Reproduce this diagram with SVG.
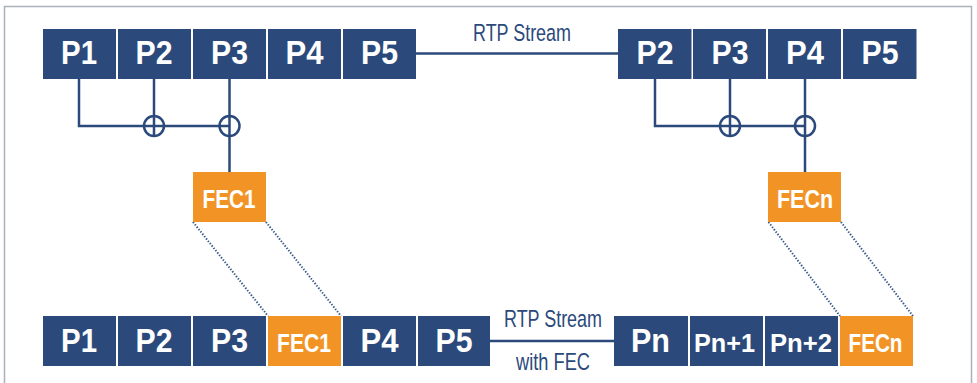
<svg xmlns="http://www.w3.org/2000/svg" width="977" height="383" viewBox="0 0 977 383">
<style>
.pk{fill:#2b4a7b}
.fec{fill:#f29425}
.lb{font-family:"Liberation Sans",Arial,sans-serif;font-weight:bold;fill:#ffffff;text-anchor:middle}
.big{font-size:33.5px}
.mid{font-size:26.5px}
.cap{font-family:"Liberation Sans",Arial,sans-serif;font-size:24.5px;fill:#2b4a7b;text-anchor:middle}
.ln{stroke:#2b4a7b;stroke-width:2.5;fill:none}
.dot{stroke:#3a5a8a;stroke-width:2;stroke-dasharray:1.4 1.6;fill:none}
</style>
<rect x="0" y="0" width="977" height="383" fill="#ffffff"/>
<rect x="4.5" y="6.5" width="967" height="385" fill="none" stroke="#aab1ba" stroke-width="1.5"/>

<g id="connectors">
  <line class="ln" x1="415" y1="53.5" x2="619" y2="53.5"/>
  <polyline class="ln" points="79,79 79,126 229,126"/>
  <line class="ln" x1="154" y1="79" x2="154" y2="136"/>
  <line class="ln" x1="229.5" y1="79" x2="229.5" y2="173"/>
  <circle class="ln" cx="154" cy="126" r="10"/>
  <circle class="ln" cx="229.5" cy="126" r="10"/>
  <polyline class="ln" points="655,79 655,126 805,126"/>
  <line class="ln" x1="730" y1="79" x2="730" y2="136"/>
  <line class="ln" x1="805" y1="79" x2="805" y2="173"/>
  <circle class="ln" cx="730" cy="126" r="10"/>
  <circle class="ln" cx="805" cy="126" r="10"/>
  <line class="ln" x1="490" y1="341" x2="615" y2="341"/>
  <line class="dot" x1="193" y1="222" x2="268" y2="316"/>
  <line class="dot" x1="266" y1="222" x2="341" y2="316"/>
  <line class="dot" x1="768.5" y1="222" x2="840" y2="316"/>
  <line class="dot" x1="841" y1="222" x2="913" y2="316"/>
</g>

<g id="label-rtp-top"><text class="cap" x="522" y="40.5" textLength="98" lengthAdjust="spacingAndGlyphs">RTP Stream</text></g>
<g id="label-rtp-bottom">
  <text class="cap" x="553" y="327.3" textLength="98" lengthAdjust="spacingAndGlyphs">RTP Stream</text>
  <text class="cap" x="553" y="370" textLength="74" lengthAdjust="spacingAndGlyphs">with FEC</text>
</g>

<g id="top-p1"><rect class="pk" x="43" y="29" width="73" height="50"/><text class="lb big" x="79" y="64" textLength="36" lengthAdjust="spacingAndGlyphs">P1</text></g>
<g id="top-p2"><rect class="pk" x="118" y="29" width="73" height="50"/><text class="lb big" x="154" y="64" textLength="37" lengthAdjust="spacingAndGlyphs">P2</text></g>
<g id="top-p3"><rect class="pk" x="193" y="29" width="73" height="50"/><text class="lb big" x="229.5" y="64" textLength="37" lengthAdjust="spacingAndGlyphs">P3</text></g>
<g id="top-p4"><rect class="pk" x="268" y="29" width="73" height="50"/><text class="lb big" x="304.5" y="64" textLength="38" lengthAdjust="spacingAndGlyphs">P4</text></g>
<g id="top-p5"><rect class="pk" x="343" y="29" width="73" height="50"/><text class="lb big" x="379.5" y="64" textLength="37" lengthAdjust="spacingAndGlyphs">P5</text></g>

<g id="top2-p2"><rect class="pk" x="618" y="29" width="73.5" height="50"/><text class="lb big" x="655" y="64" textLength="37" lengthAdjust="spacingAndGlyphs">P2</text></g>
<g id="top2-p3"><rect class="pk" x="693" y="29" width="73" height="50"/><text class="lb big" x="730" y="64" textLength="37" lengthAdjust="spacingAndGlyphs">P3</text></g>
<g id="top2-p4"><rect class="pk" x="768" y="29" width="73" height="50"/><text class="lb big" x="805" y="64" textLength="38" lengthAdjust="spacingAndGlyphs">P4</text></g>
<g id="top2-p5"><rect class="pk" x="843" y="29" width="73.5" height="50"/><text class="lb big" x="880" y="64" textLength="37" lengthAdjust="spacingAndGlyphs">P5</text></g>

<g id="fec1"><rect class="fec" x="193" y="172" width="73" height="50"/><text class="lb mid" x="229" y="207.5" textLength="53" lengthAdjust="spacingAndGlyphs">FEC1</text></g>
<g id="fecn"><rect class="fec" x="768" y="172" width="73" height="50"/><text class="lb mid" x="805" y="207.5" textLength="56" lengthAdjust="spacingAndGlyphs">FECn</text></g>

<g id="bot-p1"><rect class="pk" x="43" y="316" width="73" height="50"/><text class="lb big" x="79" y="351.7" textLength="36" lengthAdjust="spacingAndGlyphs">P1</text></g>
<g id="bot-p2"><rect class="pk" x="118" y="316" width="73" height="50"/><text class="lb big" x="154" y="351.7" textLength="37" lengthAdjust="spacingAndGlyphs">P2</text></g>
<g id="bot-p3"><rect class="pk" x="193" y="316" width="73" height="50"/><text class="lb big" x="229.5" y="351.7" textLength="37" lengthAdjust="spacingAndGlyphs">P3</text></g>
<g id="bot-fec1"><rect class="fec" x="268" y="316" width="73" height="50"/><text class="lb mid" x="304" y="352" textLength="54" lengthAdjust="spacingAndGlyphs">FEC1</text></g>
<g id="bot-p4"><rect class="pk" x="343" y="316" width="73" height="50"/><text class="lb big" x="379.5" y="351.7" textLength="38" lengthAdjust="spacingAndGlyphs">P4</text></g>
<g id="bot-p5"><rect class="pk" x="418" y="316" width="72" height="50"/><text class="lb big" x="454" y="351.7" textLength="37" lengthAdjust="spacingAndGlyphs">P5</text></g>

<g id="bot-pn"><rect class="pk" x="614" y="316" width="74" height="50"/><text class="lb big" x="650.5" y="351.7" textLength="39" lengthAdjust="spacingAndGlyphs">Pn</text></g>
<g id="bot-pn1"><rect class="pk" x="690" y="316" width="73" height="50"/><text class="lb mid" x="724.5" y="351.7" textLength="61" lengthAdjust="spacingAndGlyphs">Pn+1</text></g>
<g id="bot-pn2"><rect class="pk" x="765" y="316" width="73" height="50"/><text class="lb mid" x="801" y="351.7" textLength="62" lengthAdjust="spacingAndGlyphs">Pn+2</text></g>
<g id="bot-fecn"><rect class="fec" x="840" y="316" width="73" height="50"/><text class="lb mid" x="875.5" y="351.7" textLength="54" lengthAdjust="spacingAndGlyphs">FECn</text></g>
</svg>
